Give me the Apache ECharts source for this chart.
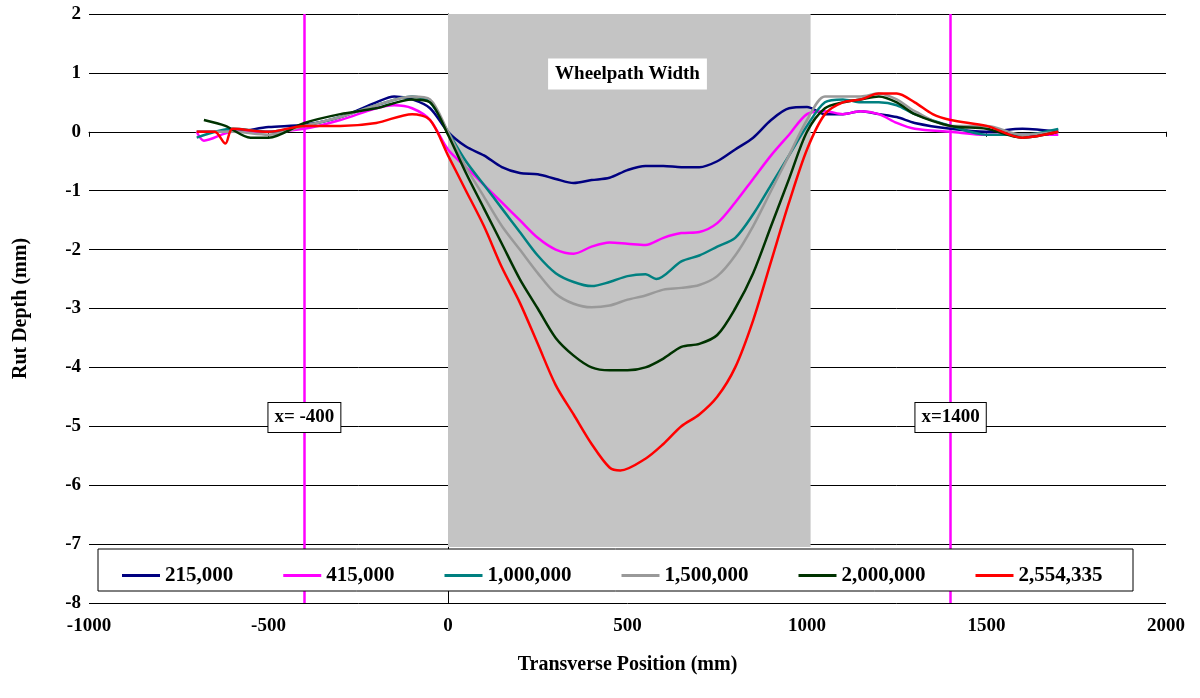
<!DOCTYPE html>
<html><head><meta charset="utf-8">
<script src="https://cdn.jsdelivr.net/npm/echarts@6/dist/echarts.min.js"></script>
<style>html,body{margin:0;padding:0;background:#fff}#c{width:1200px;height:698px}</style>
</head><body><div id="c"></div>
<script>
const seriesNames = ['215,000','415,000','1,000,000','1,500,000','2,000,000','2,554,335'];
const colors = ['#000080','#ff00ff','#008080','#999999','#003300','#ff0000'];
const s215 = [[-700,0],[-600,0],[-500,0.08],[-400,0.12],[-300,0.25],[-200,0.5],[-150,0.6],[-100,0.55],[-50,0.4],[0,0],[50,-0.25],[100,-0.4],[150,-0.6],[200,-0.7],[250,-0.72],[300,-0.8],[350,-0.87],[400,-0.82],[450,-0.78],[500,-0.65],[550,-0.58],[600,-0.58],[650,-0.6],[700,-0.6],[750,-0.5],[800,-0.3],[850,-0.1],[900,0.2],[950,0.4],[1000,0.42],[1050,0.3],[1100,0.3],[1150,0.35],[1200,0.3],[1250,0.25],[1300,0.15],[1400,0.05],[1500,0],[1600,0.05],[1700,0]];
const s415 = [[-700,0],[-680,-0.15],[-600,0],[-500,0],[-400,0.05],[-300,0.2],[-200,0.4],[-150,0.45],[-100,0.4],[-50,0.2],[0,-0.3],[50,-0.6],[100,-0.9],[150,-1.2],[200,-1.5],[250,-1.8],[300,-2.0],[350,-2.07],[400,-1.95],[450,-1.88],[500,-1.9],[550,-1.92],[600,-1.8],[650,-1.72],[700,-1.7],[750,-1.55],[800,-1.2],[850,-0.8],[900,-0.4],[950,-0.05],[1000,0.3],[1050,0.35],[1100,0.3],[1150,0.35],[1200,0.3],[1250,0.15],[1300,0.05],[1400,0],[1500,-0.05],[1600,-0.05],[1700,-0.05]];
const s1000 = [[-700,-0.1],[-600,0.05],[-500,0],[-400,0.1],[-300,0.25],[-200,0.45],[-100,0.6],[-50,0.5],[0,0],[50,-0.5],[100,-0.9],[150,-1.3],[200,-1.7],[250,-2.1],[300,-2.4],[350,-2.55],[400,-2.62],[450,-2.55],[500,-2.45],[550,-2.42],[580,-2.5],[650,-2.2],[700,-2.1],[750,-1.95],[800,-1.8],[850,-1.4],[900,-0.9],[950,-0.4],[1000,0.1],[1050,0.5],[1100,0.55],[1150,0.5],[1200,0.5],[1250,0.45],[1300,0.3],[1400,0.1],[1500,-0.05],[1600,-0.05],[1700,0.05]];
const s1500 = [[-700,0],[-600,0],[-500,-0.05],[-400,0.1],[-300,0.25],[-200,0.45],[-100,0.6],[-50,0.55],[0,0],[50,-0.6],[100,-1.1],[150,-1.6],[200,-2.0],[250,-2.4],[300,-2.75],[350,-2.92],[400,-2.98],[450,-2.95],[500,-2.85],[550,-2.78],[600,-2.68],[650,-2.65],[700,-2.6],[750,-2.45],[800,-2.1],[850,-1.6],[900,-1.0],[950,-0.4],[1000,0.2],[1050,0.6],[1100,0.6],[1150,0.6],[1200,0.65],[1250,0.55],[1300,0.35],[1400,0.1],[1500,0.1],[1600,-0.05],[1700,0]];
const s2000 = [[-680,0.2],[-620,0.1],[-550,-0.1],[-500,-0.1],[-400,0.15],[-300,0.3],[-200,0.4],[-100,0.55],[-50,0.5],[0,-0.05],[50,-0.7],[100,-1.3],[150,-1.9],[200,-2.5],[250,-3.0],[300,-3.5],[350,-3.8],[400,-4.0],[450,-4.05],[500,-4.05],[550,-4.0],[600,-3.85],[650,-3.65],[700,-3.6],[750,-3.45],[800,-3.0],[850,-2.4],[900,-1.6],[950,-0.8],[1000,0],[1050,0.4],[1100,0.5],[1150,0.55],[1200,0.6],[1250,0.5],[1300,0.3],[1400,0.1],[1500,0.05],[1600,-0.1],[1700,0]];
const s2554 = [[-700,0],[-650,0],[-620,-0.2],[-600,0.05],[-500,0],[-400,0.1],[-300,0.1],[-200,0.15],[-100,0.3],[-50,0.2],[0,-0.4],[50,-1.0],[100,-1.6],[150,-2.3],[200,-2.9],[250,-3.6],[300,-4.3],[350,-4.8],[400,-5.3],[450,-5.7],[480,-5.75],[550,-5.55],[600,-5.3],[650,-5.0],[700,-4.8],[750,-4.5],[800,-4.0],[850,-3.2],[900,-2.2],[950,-1.2],[1000,-0.3],[1050,0.3],[1100,0.5],[1150,0.55],[1200,0.65],[1250,0.65],[1300,0.5],[1350,0.3],[1400,0.2],[1500,0.1],[1600,-0.1],[1700,0]];
const allData = [s215,s415,s1000,s1500,s2000,s2554];
const wheelpath = [0, 1010];
const refLines = [-400, 1400];
const labels = [{t:'Wheelpath Width',x:500,y:0.98,b:0},{t:'x= -400',x:-400,y:-4.85,b:1},{t:'x=1400',x:1400,y:-4.85,b:1}];

const font = 'Liberation Serif';
const series = [{type:'line',data:[],silent:true,z:1,
  markArea:{silent:true,itemStyle:{color:'#c4c4c4',decal:{symbol:'rect',symbolSize:0.5,dashArrayX:[1,1],dashArrayY:[1,1],color:'rgba(90,90,90,0.5)'}},
    data:[[{xAxis:wheelpath[0],yAxis:2},{xAxis:wheelpath[1],yAxis:-7.05}]]},
  markLine:{silent:true,symbol:'none',label:{show:false},lineStyle:{color:'#ff00ff',width:2.5,type:'solid'},
    data:refLines.map(v=>({xAxis:v}))}}];
allData.forEach((d,i)=>series.push({name:seriesNames[i],type:'line',data:d,smooth:0.3,symbol:'none',
  lineStyle:{color:colors[i],width:2.5},itemStyle:{color:colors[i]},z:5}));
series.push({type:'scatter',symbolSize:1,z:10,silent:true,itemStyle:{opacity:1,color:'rgba(0,0,0,0)'},
  data:labels.map(l=>({value:[l.x,l.y],label:{show:true,position:'inside',formatter:l.t,fontFamily:font,fontWeight:'bold',fontSize:19,color:'#000',opacity:1,
    backgroundColor:'#fff',borderColor:l.b?'#000':'#fff',borderWidth:1,padding:[5,6]}}))});

const chart = echarts.init(document.getElementById('c'));
chart.setOption({
  animation:false,
  grid:{left:89,right:34,top:14,bottom:95},
  xAxis:{type:'value',min:-1000,max:2000,interval:500,
    axisLine:{lineStyle:{color:'#000'}},axisTick:{show:true,length:5,lineStyle:{color:'#000'}},splitLine:{show:false},
    axisLabel:{fontFamily:font,fontWeight:'bold',fontSize:19,color:'#000',margin:14,formatter:v=>String(v)},
    name:'Transverse Position (mm)',nameLocation:'middle',nameGap:52,nameTextStyle:{fontFamily:font,fontWeight:'bold',fontSize:20,color:'#000'}},
  yAxis:{type:'value',min:-8,max:2,interval:1,
    axisLine:{show:true,lineStyle:{color:'#000'}},axisTick:{show:true,lineStyle:{color:'#000'}},splitLine:{show:true,lineStyle:{color:'#000',width:1}},
    axisLabel:{fontFamily:font,fontWeight:'bold',fontSize:19,color:'#000'},
    name:'Rut Depth (mm)',nameLocation:'middle',nameGap:58,nameTextStyle:{fontFamily:font,fontWeight:'bold',fontSize:20,color:'#000'}},
  legend:{data:seriesNames,left:117,top:560,itemGap:50,itemWidth:38,itemHeight:3,icon:'rect',z:60,
    textStyle:{fontFamily:font,fontWeight:'bold',fontSize:21,color:'#000'}},
  graphic:[{type:'rect',shape:{x:98,y:549,width:1035,height:42},style:{fill:'#fff',stroke:'#000',lineWidth:1},z:50}],
  series
});
</script></body></html>
